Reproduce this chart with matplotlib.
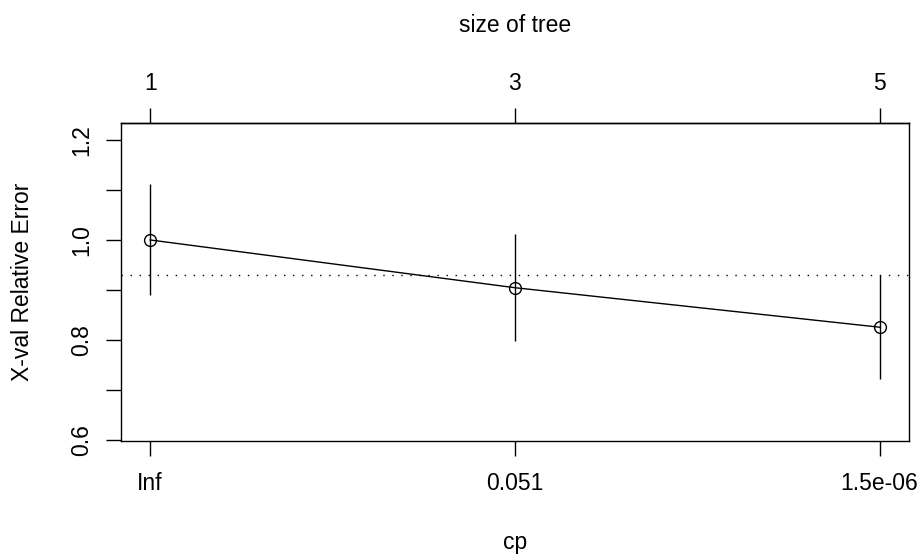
import numpy as np
import matplotlib
matplotlib.use('Agg')
import matplotlib.pyplot as plt

# cross-validation results
cp_labels = ['Inf', '0.051', '1.5e-06']
tree_size = ['1', '3', '5']
xerror = [1.0, 0.9045, 0.8255]
xstd = [0.111, 0.1065, 0.1035]
ytick_vals = [0.6, 0.7, 0.8, 0.9, 1.0, 1.1, 1.2]
ytick_labels = ['0.6', '', '0.8', '', '1.0', '', '1.2']

plt.rcParams['font.family'] = ['Liberation Sans', 'DejaVu Sans']
plt.rcParams['font.size'] = 16.5

xerror = np.array(xerror)
xstd = np.array(xstd)
x = np.arange(1, len(xerror) + 1)

fig = plt.figure(figsize=(9.2, 5.54), dpi=100)
ax = fig.add_axes([121 / 920, 1 - 440.7 / 554, (908.7 - 121) / 920, (440.7 - 122.7) / 554])

# error bars, line with open circles, and the 1-SE threshold
ax.vlines(x, xerror - xstd, xerror + xstd, color='black', linewidth=1.0)
ax.plot(x, xerror, color='black', linewidth=1.0, marker='o', markersize=8.5,
        markerfacecolor='none', markeredgecolor='black', markeredgewidth=1.0)
thresh = xerror.min() + xstd[np.argmin(xerror)]
ax.axhline(thresh, color='black', linewidth=1.0, linestyle=(0, (1, 5.5)))

lo = (xerror - xstd).min() - 0.1
hi = (xerror + xstd).max() + 0.1
pad = 0.04 * (hi - lo)
ax.set_ylim(lo - pad, hi + pad)
ax.set_xlim(x[0] - 0.04 * (x[-1] - x[0]), x[-1] + 0.04 * (x[-1] - x[0]))

ax.set_xticks(x, cp_labels)
ax.set_yticks(ytick_vals, ytick_labels, rotation=90, va='center')
ax.tick_params(axis='x', length=10.8, width=1.0, pad=12)
ax.tick_params(axis='y', length=10.8, width=1.0, pad=9)

top = ax.secondary_xaxis('top')
top.set_xticks(x, tree_size)
top.tick_params(axis='x', length=10.8, width=1.0, pad=9)
top.spines['top'].set_linewidth(1.0)

for s in ax.spines.values():
    s.set_linewidth(1.0)
    s.set_color('black')

fig.text(0.5596, 1 - 543 / 554, 'cp', ha='center', va='center')
fig.text(0.5596, 1 - 25 / 554, 'size of tree', ha='center', va='center')
fig.text(23 / 920, 1 - 281.7 / 554, 'X-val Relative Error', rotation=90,
         ha='center', va='center')

fig.savefig('out.png', dpi=100)
